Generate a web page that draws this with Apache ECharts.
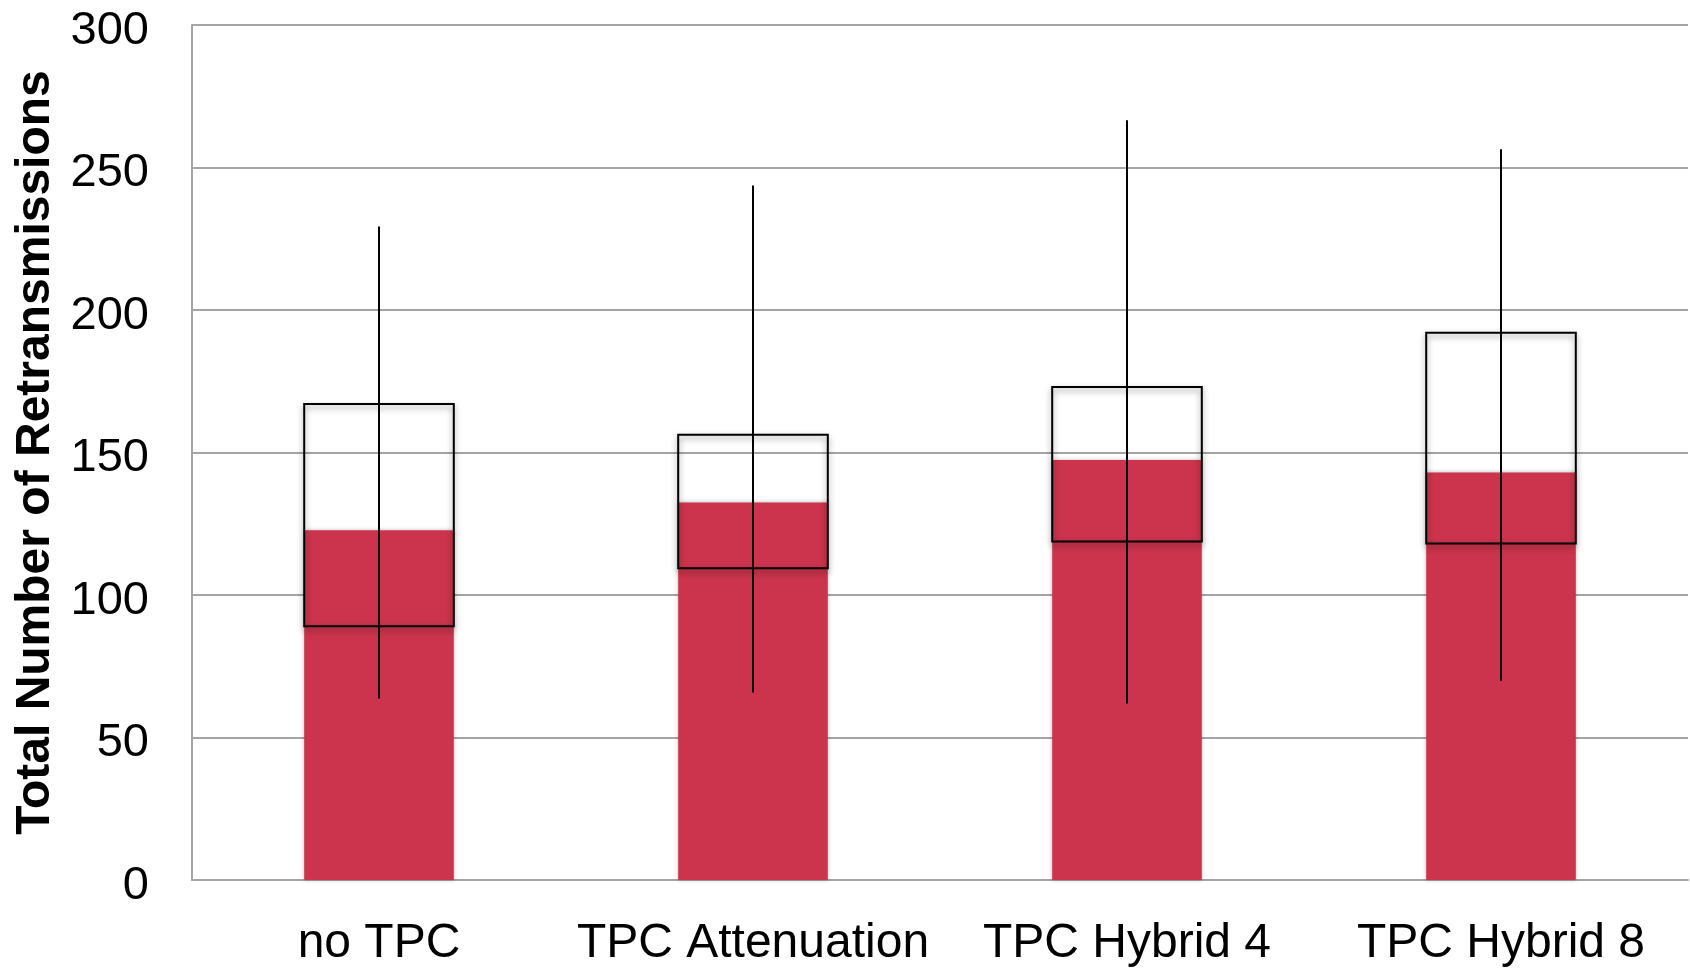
<!DOCTYPE html>
<html>
<head>
<meta charset="utf-8">
<script src="https://cdn.jsdelivr.net/npm/echarts@6/dist/echarts.min.js"></script>
<style>
html,body{margin:0;padding:0;background:#fff;}
#chart{width:1690px;height:969px;}
</style>
</head>
<body>
<div id="chart"></div>
<script>
var categories = ['no TPC', 'TPC Attenuation', 'TPC Hybrid 4', 'TPC Hybrid 8'];
var meanValues = [122.7, 132.5, 147.4, 143.0];
var boxLow = [89.0, 109.4, 118.8, 118.1];
var boxHigh = [167.0, 156.2, 173.0, 192.0];
var whiskerLow = [63.7, 65.8, 61.9, 69.9];
var whiskerHigh = [229.3, 243.7, 266.6, 256.4];
var yTicks = [0, 50, 100, 150, 200, 250, 300];

var rangeData = categories.map(function (c, i) {
  return [i, whiskerLow[i], boxLow[i], boxHigh[i], whiskerHigh[i]];
});

var FONT = '"Liberation Sans", Arial, Helvetica, sans-serif';
var chart = echarts.init(document.getElementById('chart'), null, {renderer: 'canvas'});

chart.setOption({
  backgroundColor: '#ffffff',
  animation: false,
  grid: {left: 192, right: 2, top: 25, bottom: 89, containLabel: false},
  xAxis: {
    type: 'category',
    data: categories,
    axisLine: {show: true, lineStyle: {color: '#a4a4a4', width: 2}},
    axisTick: {show: false},
    axisLabel: {color: '#000', fontSize: 48, fontFamily: FONT, margin: 40, interval: 0},
    splitLine: {show: false}
  },
  yAxis: {
    type: 'value',
    min: yTicks[0],
    max: yTicks[yTicks.length - 1],
    interval: 50,
    name: 'Total Number of Retransmissions',
    nameLocation: 'middle',
    nameGap: 132,
    nameTextStyle: {color: '#000', fontSize: 48, fontWeight: 'bold', fontFamily: FONT},
    axisLine: {show: true, lineStyle: {color: '#a4a4a4', width: 2}},
    axisTick: {show: false},
    axisLabel: {
      margin: 43,
      formatter: function (v) { return '{t|' + v + '}'; },
      rich: {
        t: {color: '#000', fontSize: 47, fontFamily: FONT, padding: [12, 0, 0, 0]}
      }
    },
    splitLine: {show: true, lineStyle: {color: '#a4a4a4', width: 2}}
  },
  series: [
    {
      type: 'bar',
      data: meanValues,
      barWidth: '40%',
      itemStyle: {
        color: '#cb344c',
        shadowBlur: 4,
        shadowColor: 'rgba(0,0,0,0.25)'
      },
      z: 2
    },
    {
      type: 'custom',
      data: rangeData,
      encode: {x: 0, y: [1, 2, 3, 4]},
      z: 5,
      renderItem: function (params, api) {
        var idx = api.value(0);
        var wLo = api.coord([idx, api.value(1)]);
        var bLo = api.coord([idx, api.value(2)]);
        var bHi = api.coord([idx, api.value(3)]);
        var wHi = api.coord([idx, api.value(4)]);
        var band = api.size([1, 0])[0];
        var w = band * 0.4;
        var cx = Math.round(wLo[0]);
        return {
          type: 'group',
          children: [
            {
              type: 'rect',
              shape: {x: cx - w / 2, y: bHi[1], width: w, height: bLo[1] - bHi[1]},
              style: {
                fill: 'none',
                stroke: '#000',
                lineWidth: 2,
                shadowBlur: 6,
                shadowOffsetY: 3,
                shadowColor: 'rgba(0,0,0,0.45)'
              }
            },
            {
              type: 'line',
              shape: {x1: cx, y1: wHi[1], x2: cx, y2: wLo[1]},
              style: {stroke: '#000', lineWidth: 2}
            }
          ]
        };
      }
    }
  ]
});
</script>
</body>
</html>
